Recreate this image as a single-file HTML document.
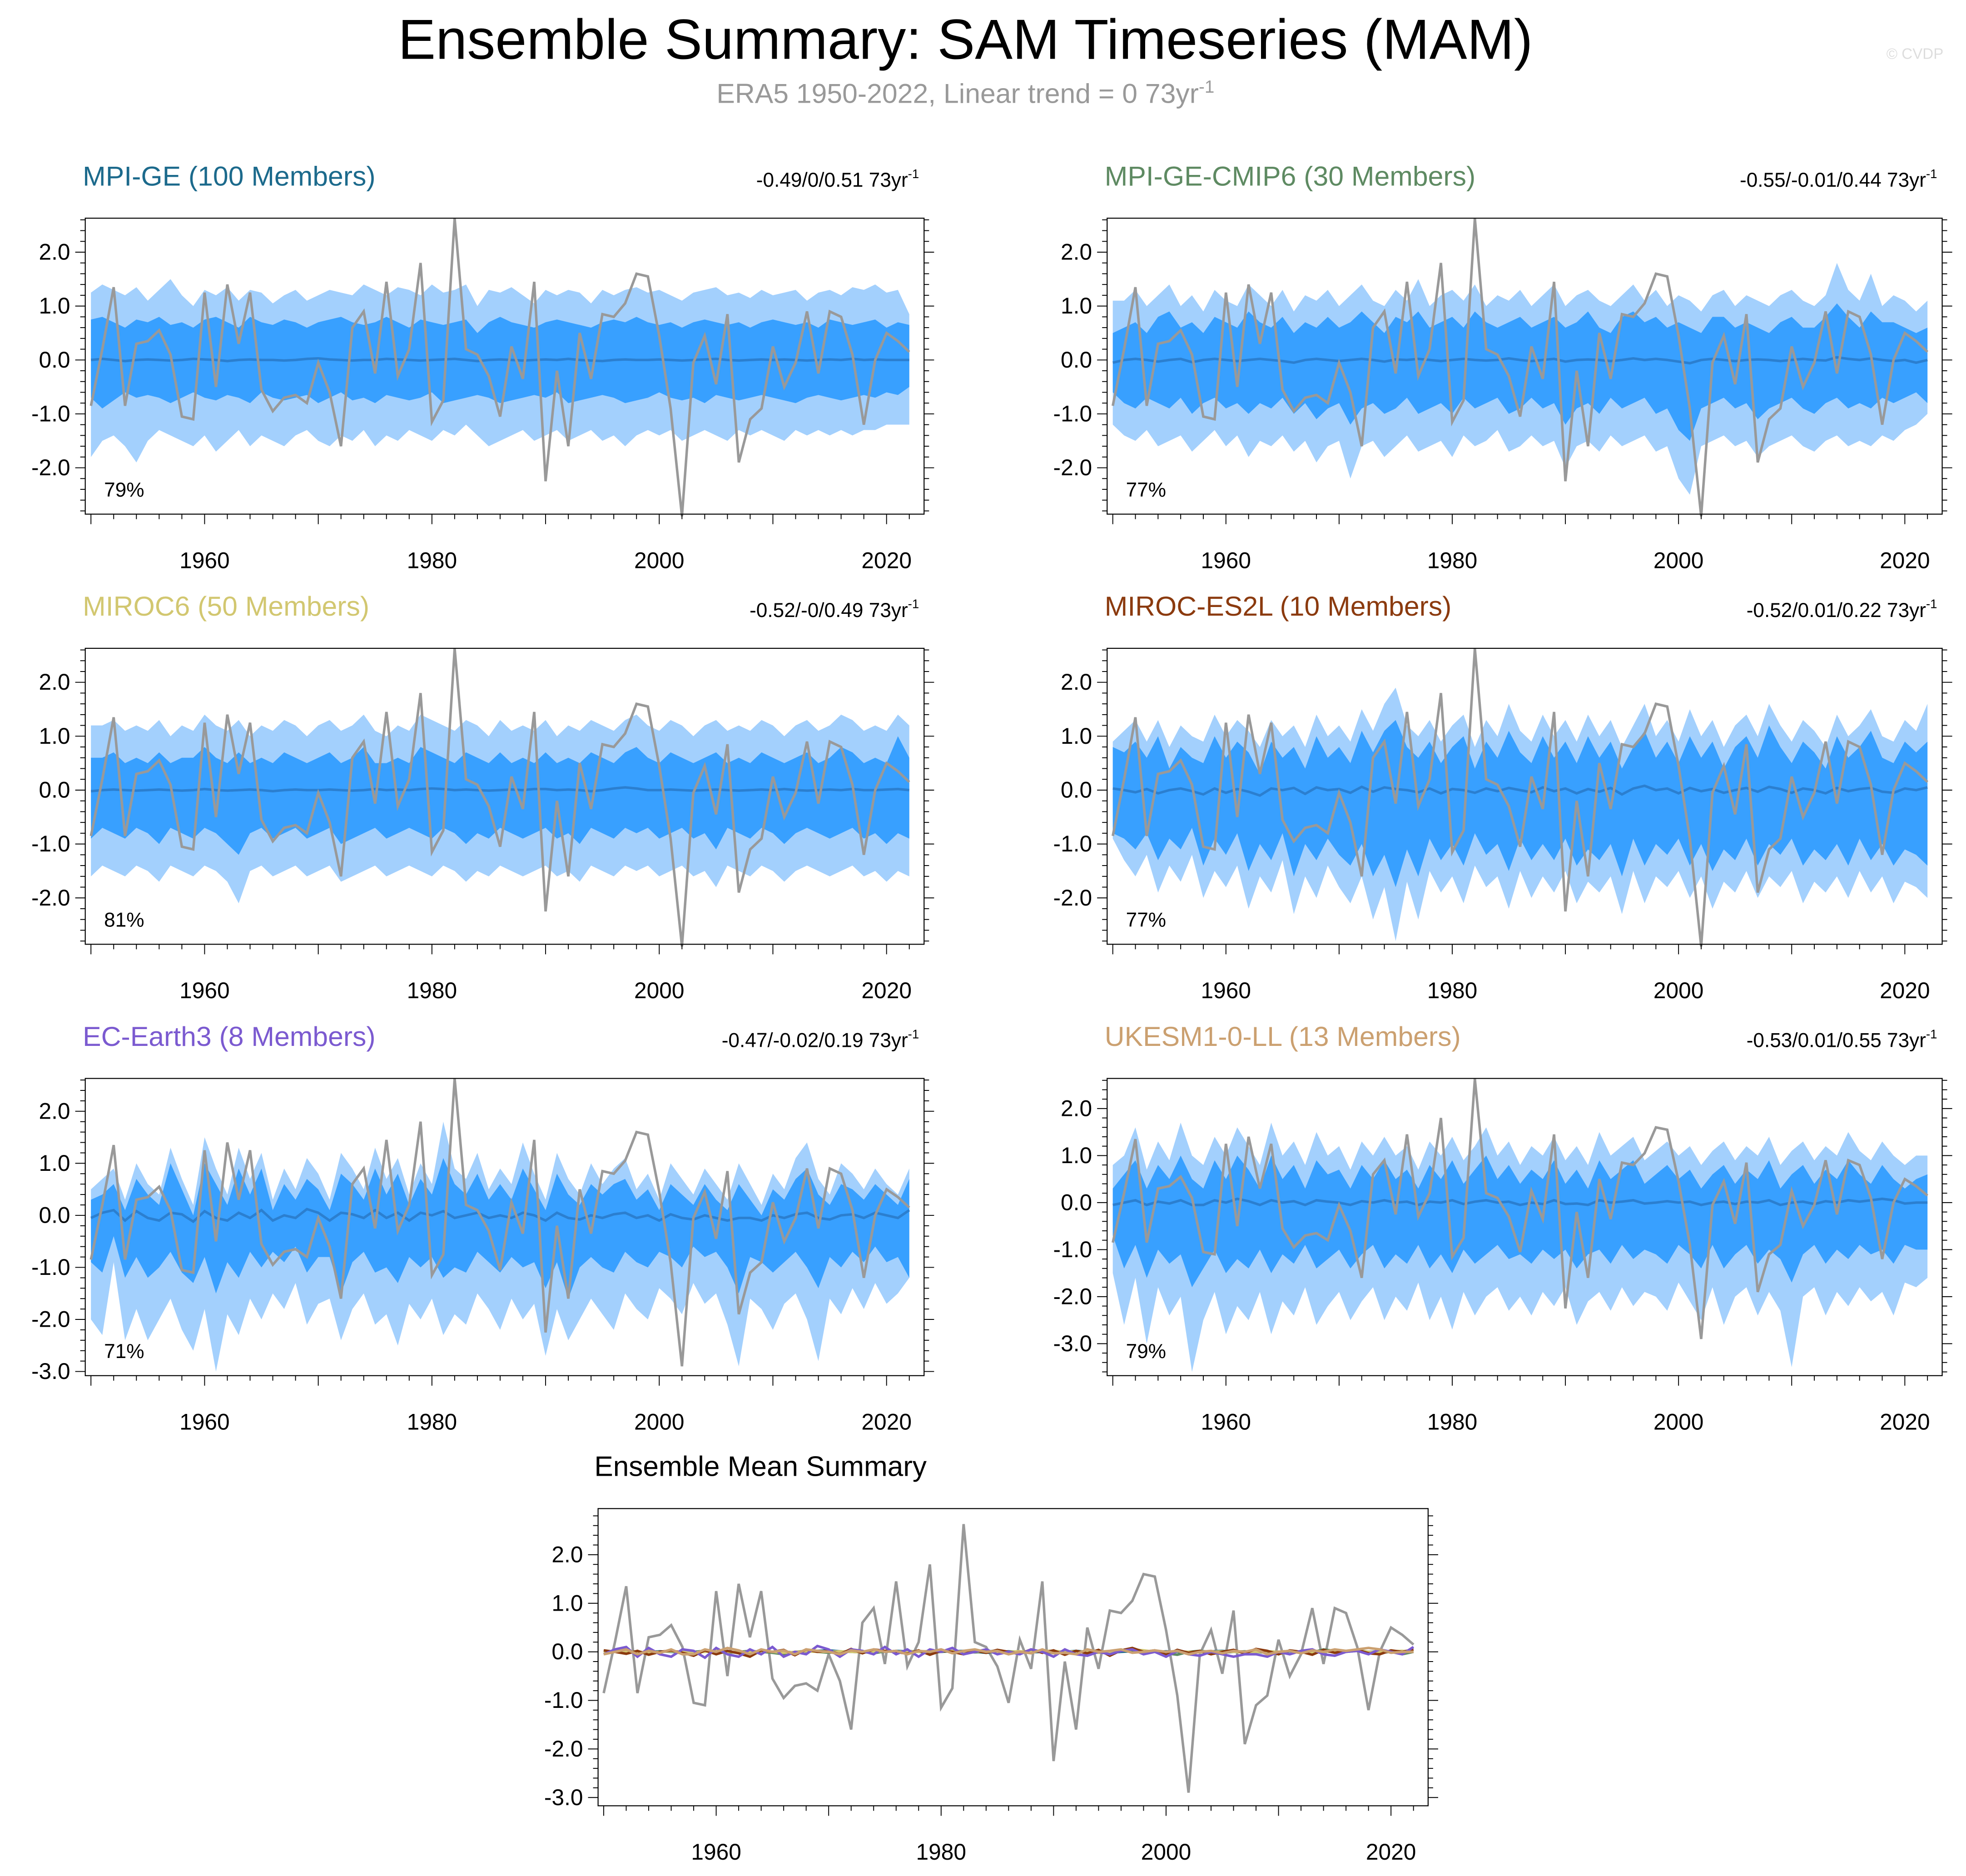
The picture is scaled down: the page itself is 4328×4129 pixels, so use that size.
<!DOCTYPE html>
<html><head><meta charset="utf-8">
<style>
html,body{margin:0;padding:0;background:#fff;}
svg{display:block;font-family:"Liberation Sans",sans-serif;}
</style></head>
<body>
<svg id="chart" xmlns="http://www.w3.org/2000/svg" width="4328" height="4129" viewBox="0 0 1568 1496" preserveAspectRatio="none">
<rect width="1568" height="1496" fill="#fff"/>
<text x="770" y="47" font-size="45" text-anchor="middle" fill="#000">Ensemble Summary: SAM Timeseries (MAM)</text>
<text x="770" y="82" font-size="22" text-anchor="middle" fill="#999">ERA5 1950-2022, Linear trend = 0 73yr<tspan font-size="14" dy="-8">-1</tspan></text>
<text x="1550" y="47" font-size="12" text-anchor="end" fill="#ddd">© CVDP</text>
<g id="plots"></g>
</svg>
<script>
const years=[];for(let y=1950;y<=2022;y++)years.push(y);
const era5=[-0.85,0.2,1.35,-0.85,0.3,0.35,0.55,0.1,-1.05,-1.1,1.25,-0.5,1.4,0.3,1.25,-0.55,-0.95,-0.7,-0.65,-0.8,-0.05,-0.6,-1.6,0.6,0.9,-0.25,1.45,-0.3,0.2,1.8,-1.15,-0.75,2.63,0.2,0.1,-0.3,-1.05,0.25,-0.35,1.45,-2.25,-0.2,-1.6,0.5,-0.35,0.85,0.8,1.05,1.6,1.55,0.45,-0.9,-2.9,-0.05,0.45,-0.45,0.85,-1.9,-1.1,-0.9,0.25,-0.5,-0.05,0.9,-0.25,0.9,0.8,0.1,-1.2,0.0,0.5,0.35,0.15];

// MPI-GE
const mpiOHi=[1.25,1.4,1.3,1.2,1.35,1.1,1.3,1.5,1.2,1.0,1.3,1.2,1.35,1.1,1.3,1.25,1.05,1.2,1.3,1.1,1.2,1.3,1.25,1.2,1.4,1.3,1.2,1.35,1.3,1.2,1.4,1.25,1.3,1.4,1.0,1.3,1.25,1.35,1.2,1.05,1.3,1.2,1.3,1.25,1.05,1.3,1.2,1.3,1.35,1.25,1.3,1.2,1.1,1.25,1.3,1.35,1.2,1.25,1.15,1.3,1.2,1.25,1.3,1.1,1.25,1.3,1.2,1.35,1.3,1.4,1.25,1.3,0.85];
const mpiOLo=[-1.8,-1.5,-1.4,-1.6,-1.9,-1.5,-1.3,-1.4,-1.5,-1.6,-1.4,-1.7,-1.5,-1.3,-1.6,-1.4,-1.5,-1.6,-1.4,-1.3,-1.5,-1.6,-1.4,-1.5,-1.3,-1.6,-1.4,-1.5,-1.3,-1.4,-1.5,-1.3,-1.4,-1.2,-1.4,-1.6,-1.5,-1.4,-1.3,-1.5,-1.4,-1.3,-1.5,-1.4,-1.3,-1.5,-1.4,-1.6,-1.4,-1.3,-1.4,-1.3,-1.5,-1.4,-1.3,-1.4,-1.5,-1.3,-1.4,-1.3,-1.4,-1.5,-1.3,-1.4,-1.3,-1.4,-1.3,-1.4,-1.3,-1.3,-1.2,-1.2,-1.2];
const mpiIHi=[0.75,0.8,0.7,0.6,0.75,0.7,0.8,0.65,0.7,0.6,0.75,0.8,0.7,0.6,0.8,0.7,0.65,0.75,0.7,0.6,0.7,0.75,0.8,0.7,0.65,0.7,0.8,0.7,0.6,0.75,0.7,0.65,0.7,0.75,0.5,0.7,0.8,0.7,0.65,0.6,0.7,0.75,0.7,0.65,0.6,0.7,0.75,0.7,0.8,0.7,0.65,0.7,0.6,0.7,0.75,0.7,0.65,0.7,0.6,0.7,0.75,0.7,0.65,0.7,0.6,0.75,0.7,0.65,0.7,0.75,0.6,0.7,0.65];
const mpiILo=[-0.7,-0.9,-0.75,-0.6,-0.7,-0.65,-0.7,-0.8,-0.7,-0.6,-0.7,-0.75,-0.65,-0.7,-0.8,-0.6,-0.7,-0.75,-0.7,-0.65,-0.8,-0.7,-0.6,-0.75,-0.7,-0.8,-0.65,-0.7,-0.75,-0.7,-0.6,-0.8,-0.75,-0.7,-0.65,-0.7,-0.8,-0.75,-0.7,-0.65,-0.7,-0.6,-0.8,-0.75,-0.7,-0.65,-0.7,-0.8,-0.75,-0.7,-0.6,-0.7,-0.75,-0.7,-0.8,-0.65,-0.7,-0.75,-0.7,-0.65,-0.7,-0.75,-0.8,-0.7,-0.65,-0.7,-0.75,-0.7,-0.65,-0.7,-0.6,-0.65,-0.5];
const mpiMean=[0,0.02,0,-0.02,0,0.01,0,-0.01,0,0.02,0.01,0,-0.02,0,0.01,0,0,-0.01,0,0.02,0.03,0.01,0,-0.01,0,0,0.02,0.01,0,-0.01,0,0.01,0.02,0,-0.02,0,0.01,0,-0.01,0,0.01,0,0.02,0,-0.01,-0.02,0,0.01,0,0,0.01,0,-0.01,0,0.01,0.02,0,-0.01,0,0.01,0,0.01,0,-0.01,0,0.01,0,0.02,0,0.01,0,0,0];
// MPI-GE-CMIP6
const cm6OHi=[1.1,1.1,1.3,1.0,1.2,1.4,1.0,1.2,0.9,1.3,1.1,1.0,1.4,1.2,1.0,1.3,0.9,1.2,1.1,1.3,1.0,1.2,1.4,1.1,1.0,1.3,1.1,1.5,1.0,1.2,1.3,1.1,1.4,1.0,1.2,1.1,1.3,1.0,1.2,1.4,1.0,1.2,1.3,1.1,1.0,1.2,1.4,1.1,1.3,1.0,1.2,1.1,0.9,1.2,1.3,1.0,1.2,1.1,1.0,1.2,1.3,1.1,1.0,1.2,1.8,1.3,1.1,1.6,1.0,1.2,1.1,0.9,1.1];
const cm6OLo=[-1.2,-1.4,-1.5,-1.3,-1.6,-1.5,-1.4,-1.7,-1.5,-1.3,-1.6,-1.4,-1.8,-1.5,-1.6,-1.4,-1.7,-1.5,-1.9,-1.6,-1.5,-2.2,-1.6,-1.5,-1.8,-1.6,-1.4,-1.7,-1.6,-1.5,-1.8,-1.4,-1.6,-1.5,-1.3,-1.7,-1.6,-1.4,-1.6,-1.5,-2.0,-1.6,-1.5,-1.7,-1.4,-1.6,-1.5,-1.4,-1.7,-1.6,-2.2,-2.5,-1.6,-1.5,-1.4,-1.6,-1.5,-1.8,-1.6,-1.5,-1.4,-1.6,-1.7,-1.5,-1.4,-1.6,-1.5,-1.6,-1.4,-1.5,-1.3,-1.2,-1.0];
const cm6IHi=[0.5,0.6,0.7,0.5,0.8,0.9,0.6,0.7,0.5,0.8,0.7,0.6,0.9,0.7,0.6,0.8,0.5,0.7,0.6,0.8,0.6,0.7,0.9,0.7,0.5,0.8,0.7,0.9,0.6,0.7,0.8,0.6,0.9,0.7,0.6,0.7,0.8,0.6,0.7,0.8,0.6,0.7,0.9,0.6,0.5,0.8,0.9,0.7,0.8,0.6,0.7,0.6,0.5,0.8,0.8,0.6,0.7,0.6,0.5,0.7,0.8,0.6,0.6,0.8,1.05,0.8,0.6,0.9,0.7,0.7,0.6,0.5,0.6];
const cm6ILo=[-0.6,-0.8,-0.9,-0.7,-0.8,-0.9,-0.7,-1.0,-0.8,-0.7,-0.9,-0.8,-1.0,-0.8,-0.9,-0.7,-1.0,-0.8,-1.1,-0.9,-0.8,-1.2,-0.9,-0.8,-1.0,-0.9,-0.7,-1.0,-0.9,-0.8,-1.0,-0.7,-0.9,-0.8,-0.7,-1.0,-0.9,-0.7,-0.9,-0.8,-1.2,-0.9,-0.8,-1.0,-0.7,-0.9,-0.8,-0.7,-1.0,-0.9,-1.3,-1.5,-0.9,-0.8,-0.7,-0.9,-0.8,-1.1,-0.9,-0.8,-0.7,-0.9,-1.0,-0.8,-0.7,-0.9,-0.8,-0.9,-0.7,-0.8,-0.7,-0.6,-0.8];
const cm6Mean=[-0.05,0.0,0.02,0,-0.03,0,0.02,-0.04,0,0.02,0,-0.02,0,0.02,0,-0.02,-0.05,0,0.02,0,-0.02,0,0.02,0,-0.03,0.01,0,0.02,0,-0.02,0,0.02,0,-0.01,0,0.03,0,-0.02,0,0.02,-0.03,0,0.01,0,-0.02,0,0.03,0,0.02,0,-0.03,-0.06,0,0.02,0,-0.02,0,0.01,0,-0.02,0,0.02,0,-0.01,0.05,0.02,0,0.03,0,-0.02,0,-0.05,0];
// MIROC6
const mirOHi=[1.2,1.2,1.3,1.1,1.2,1.1,1.3,1.0,1.2,1.1,1.4,1.2,1.1,1.3,1.0,1.2,1.1,1.3,1.2,1.0,1.2,1.3,1.1,1.2,1.4,1.1,1.0,1.2,1.1,1.4,1.3,1.2,1.1,1.3,1.2,1.0,1.3,1.1,1.2,1.1,1.3,1.0,1.2,1.1,1.3,1.2,1.1,1.3,1.4,1.2,1.1,1.3,1.2,1.0,1.2,1.3,1.1,1.2,1.1,1.3,1.2,1.0,1.2,1.3,1.1,1.2,1.4,1.3,1.1,1.2,1.1,1.4,1.2];
const mirOLo=[-1.6,-1.4,-1.5,-1.6,-1.4,-1.5,-1.7,-1.4,-1.5,-1.6,-1.4,-1.5,-1.7,-2.1,-1.5,-1.4,-1.6,-1.5,-1.4,-1.6,-1.5,-1.4,-1.7,-1.6,-1.5,-1.4,-1.6,-1.5,-1.4,-1.5,-1.6,-1.4,-1.5,-1.7,-1.5,-1.6,-1.4,-1.5,-1.6,-1.5,-1.4,-1.6,-1.5,-1.7,-1.4,-1.5,-1.6,-1.4,-1.5,-1.4,-1.6,-1.5,-1.4,-1.6,-1.5,-1.8,-1.4,-1.5,-1.6,-1.4,-1.5,-1.7,-1.5,-1.4,-1.5,-1.6,-1.5,-1.4,-1.6,-1.5,-1.7,-1.5,-1.6];
const mirIHi=[0.6,0.6,0.7,0.5,0.6,0.5,0.7,0.5,0.6,0.6,0.8,0.6,0.5,0.7,0.5,0.6,0.5,0.7,0.6,0.5,0.6,0.7,0.5,0.6,0.8,0.5,0.5,0.6,0.5,0.8,0.7,0.6,0.5,0.7,0.6,0.5,0.7,0.5,0.6,0.5,0.7,0.5,0.6,0.5,0.7,0.6,0.5,0.7,0.8,0.6,0.5,0.7,0.6,0.5,0.6,0.7,0.5,0.6,0.5,0.7,0.6,0.5,0.6,0.7,0.5,0.6,0.8,0.7,0.5,0.6,0.5,1.0,0.6];
const mirILo=[-0.9,-0.7,-0.8,-0.9,-0.7,-0.8,-1.0,-0.7,-0.8,-0.9,-0.7,-0.8,-1.0,-1.2,-0.8,-0.7,-0.9,-0.8,-0.7,-0.9,-0.8,-0.7,-1.0,-0.9,-0.8,-0.7,-0.9,-0.8,-0.7,-0.8,-0.9,-0.7,-0.8,-1.0,-0.8,-0.9,-0.7,-0.8,-0.9,-0.8,-0.7,-0.9,-0.8,-1.0,-0.7,-0.8,-0.9,-0.7,-0.8,-0.7,-0.9,-0.8,-0.7,-0.9,-0.8,-1.1,-0.7,-0.8,-0.9,-0.7,-0.8,-1.0,-0.8,-0.7,-0.8,-0.9,-0.8,-0.7,-0.9,-0.8,-1.0,-0.8,-0.9];
const mirMean=[-0.02,0,0.01,0,-0.01,0,0.01,0,-0.01,0,0.02,0,-0.01,0,0.01,0,-0.02,0,0.01,0,0,0.01,0,-0.01,0,0.02,0,0.01,0,0.02,0.03,0.02,0,0.01,0,-0.01,0,0.01,0,0.02,0.02,0,0.01,0,-0.02,0,0.03,0.05,0.03,0,0,0.01,0,-0.01,0,0.01,0,-0.01,0,0.01,0,0.02,0,-0.01,0,0.01,0,0.02,0,0,0.01,0.02,0];
// MIROC-ES2L
const esOHi=[0.9,1.1,1.3,0.9,1.3,0.8,1.2,1.0,0.9,1.4,1.0,1.3,1.1,0.8,1.3,1.0,1.2,0.8,1.4,1.0,1.2,0.9,1.5,1.1,1.6,1.9,1.2,1.0,1.3,0.9,1.2,1.4,0.8,1.3,1.0,1.6,1.1,0.9,1.4,1.0,1.3,0.9,1.4,1.0,1.3,0.8,1.2,1.6,1.0,1.3,0.9,1.5,1.0,1.3,0.8,1.2,1.4,1.0,1.6,1.2,0.9,1.3,1.1,0.8,1.4,1.0,1.2,1.5,1.0,0.9,1.3,1.1,1.6];
const esOLo=[-0.9,-1.3,-1.6,-1.2,-1.9,-1.4,-1.7,-1.2,-2.0,-1.5,-1.8,-1.4,-2.2,-1.6,-1.9,-1.3,-2.3,-1.6,-2.0,-1.4,-1.8,-2.1,-1.6,-2.4,-1.8,-2.8,-1.7,-2.4,-1.5,-1.9,-1.6,-2.1,-1.4,-1.8,-1.6,-2.2,-1.5,-2.0,-1.6,-1.9,-1.5,-2.1,-1.7,-1.9,-1.6,-2.3,-1.5,-2.1,-1.6,-1.8,-1.5,-2.0,-1.6,-2.2,-1.7,-1.9,-1.5,-2.0,-1.6,-1.8,-1.5,-2.1,-1.7,-1.9,-1.6,-2.0,-1.5,-1.9,-1.6,-2.1,-1.7,-1.8,-2.0];
const esIHi=[0.8,0.7,0.9,0.6,1.0,0.4,0.8,0.6,0.5,1.0,0.6,0.9,0.7,0.3,0.9,0.6,0.8,0.4,1.0,0.6,0.8,0.5,1.1,0.7,1.1,1.3,0.8,0.6,0.9,0.5,0.8,1.0,0.4,0.9,0.6,1.1,0.7,0.5,1.0,0.6,0.9,0.5,1.0,0.6,0.9,0.4,0.8,1.1,0.6,0.9,0.5,1.0,0.6,0.9,0.4,0.8,1.0,0.6,1.2,0.8,0.5,0.9,0.7,0.4,1.0,0.6,0.8,1.1,0.6,0.5,0.9,0.7,0.9];
const esILo=[-0.8,-0.9,-1.1,-0.8,-1.3,-0.9,-1.1,-0.7,-1.4,-0.9,-1.2,-0.8,-1.5,-1.0,-1.3,-0.8,-1.6,-1.0,-1.3,-0.9,-1.2,-1.4,-1.0,-1.6,-1.2,-1.8,-1.1,-1.6,-0.9,-1.3,-1.0,-1.4,-0.8,-1.2,-1.0,-1.5,-0.9,-1.3,-1.0,-1.3,-0.9,-1.4,-1.1,-1.3,-1.0,-1.6,-0.9,-1.4,-1.0,-1.2,-0.9,-1.4,-1.0,-1.5,-1.1,-1.3,-0.9,-1.4,-1.0,-1.2,-0.9,-1.4,-1.1,-1.3,-1.0,-1.4,-0.9,-1.3,-1.0,-1.4,-1.1,-1.2,-1.4];
const esMean=[0.03,0,-0.04,0.02,-0.06,0,0.03,-0.02,-0.08,0.03,-0.05,0.02,-0.03,-0.1,0.03,0,0.04,-0.07,0.05,0,0.02,-0.05,0.06,-0.03,0.05,0.02,0,-0.04,0.03,-0.06,0.02,0,-0.05,0.03,-0.02,0.04,0,-0.04,0.05,-0.02,0.03,-0.06,0.02,-0.03,0.04,-0.08,0.03,0.08,0,0.03,-0.06,0.04,-0.02,0.02,-0.05,0,0.04,-0.03,0.06,0.02,-0.05,0.03,0,-0.06,0.04,-0.02,0.02,0.04,-0.03,-0.05,0.03,0,0.05];
// EC-Earth3
const ecOHi=[0.5,0.7,0.9,0.3,1.0,0.6,0.4,1.3,0.7,0.2,1.5,0.9,0.4,1.3,0.7,1.2,0.3,0.9,0.5,1.1,0.8,0.3,1.2,0.9,0.5,1.3,0.7,1.1,0.4,1.0,0.6,1.8,0.9,0.7,1.2,0.5,0.9,0.6,1.4,0.8,0.3,1.2,0.7,0.4,1.0,0.6,0.9,1.1,0.5,0.8,0.3,1.0,0.7,0.4,0.9,0.6,0.3,1.0,0.6,0.2,0.8,0.5,1.1,1.4,0.7,0.4,1.0,0.8,0.5,0.9,0.6,0.4,0.9];
const ecOLo=[-2.0,-2.3,-0.9,-2.4,-1.8,-2.4,-2.0,-1.6,-2.2,-2.6,-1.8,-3.0,-1.9,-2.3,-1.6,-2.0,-1.5,-1.8,-1.3,-2.1,-1.7,-1.6,-2.4,-1.8,-1.5,-2.1,-1.9,-2.5,-1.7,-2.0,-1.6,-2.3,-1.9,-2.1,-1.5,-1.8,-2.2,-1.6,-2.0,-1.7,-2.7,-1.8,-2.4,-2.0,-1.6,-1.9,-2.2,-1.5,-1.8,-2.0,-1.4,-1.6,-1.9,-1.3,-1.7,-1.5,-2.1,-2.9,-1.6,-1.8,-2.2,-1.7,-1.5,-2.0,-2.8,-1.6,-1.9,-1.4,-1.8,-1.3,-1.7,-1.5,-1.2];
const ecIHi=[0.3,0.4,0.6,0.1,0.7,0.4,0.2,1.0,0.5,0.0,1.0,0.6,0.2,0.9,0.4,0.9,0.1,0.6,0.3,0.7,0.5,0.1,0.8,0.6,0.3,0.9,0.4,0.8,0.2,0.7,0.4,1.1,0.6,0.4,0.8,0.3,0.6,0.3,0.9,0.5,0.1,0.8,0.4,0.2,0.6,0.4,0.6,0.7,0.3,0.5,0.1,0.6,0.4,0.2,0.6,0.3,0.1,0.6,0.3,0.0,0.5,0.3,0.7,0.9,0.4,0.2,0.6,0.5,0.3,0.6,0.4,0.2,0.7];
const ecILo=[-0.9,-1.1,-0.4,-1.2,-0.8,-1.2,-1.0,-0.7,-1.1,-1.3,-0.8,-1.5,-0.9,-1.2,-0.7,-1.0,-0.7,-0.9,-0.6,-1.1,-0.8,-0.8,-1.5,-0.9,-0.7,-1.1,-1.0,-1.3,-0.8,-1.0,-0.8,-1.2,-1.0,-1.1,-0.7,-0.9,-1.1,-0.8,-1.0,-0.9,-1.4,-0.9,-1.6,-1.0,-0.8,-1.0,-1.1,-0.7,-0.9,-1.0,-0.7,-0.8,-1.0,-0.6,-0.8,-0.7,-1.0,-1.5,-0.8,-0.9,-1.1,-0.9,-0.7,-1.0,-1.4,-0.8,-1.0,-0.7,-0.9,-0.6,-0.9,-0.8,-1.2];
const ecMean=[-0.05,0.05,0.1,-0.1,0.08,-0.05,-0.1,0.05,0.02,-0.12,0.08,-0.05,-0.1,0.05,-0.05,0.1,-0.1,0.0,-0.05,0.12,0.05,-0.1,0.05,0.02,-0.05,0.1,-0.05,0.05,-0.1,0.05,0.0,0.08,-0.05,0.0,0.05,-0.05,0.0,-0.05,0.05,0.0,-0.1,0.05,-0.05,-0.08,0.0,-0.05,0.02,0.05,-0.05,0.0,-0.1,0.02,-0.05,-0.08,0.0,-0.05,-0.1,-0.05,-0.05,-0.1,0.0,-0.05,0.02,0.05,-0.05,-0.08,0.0,0.02,-0.05,0.05,0.0,-0.05,0.1];
// UKESM1-0-LL
const ukOHi=[0.8,1.0,1.6,0.7,1.3,0.9,1.7,1.0,0.8,1.4,1.0,1.6,1.2,0.8,1.7,1.0,1.3,0.8,1.5,1.0,1.2,0.7,1.3,1.0,1.4,1.0,1.2,0.7,1.3,1.0,1.4,0.9,1.2,1.6,1.0,1.3,0.8,1.2,1.0,1.4,0.9,1.2,0.8,1.5,1.0,1.2,1.4,0.9,1.1,1.3,1.0,1.2,0.8,1.1,1.3,0.9,1.2,1.0,1.4,0.8,1.1,1.3,0.9,1.2,1.0,1.5,1.1,0.9,1.3,1.0,0.8,1.0,1.0];
const ukOLo=[-1.5,-2.6,-1.6,-3.0,-1.8,-2.4,-2.0,-3.6,-2.5,-1.9,-2.8,-2.2,-2.5,-1.9,-2.8,-2.1,-2.4,-1.8,-2.6,-2.2,-1.9,-2.5,-2.1,-1.8,-2.5,-2.0,-2.3,-1.7,-2.5,-2.0,-2.7,-1.9,-2.4,-2.0,-1.8,-2.3,-2.0,-2.4,-1.9,-2.2,-1.8,-2.6,-2.1,-1.9,-2.3,-1.8,-2.2,-1.9,-2.0,-2.3,-1.7,-2.1,-2.5,-1.8,-2.6,-2.0,-1.8,-2.4,-1.9,-2.3,-3.5,-2.0,-1.8,-2.4,-1.9,-2.2,-1.8,-2.1,-1.9,-2.4,-1.7,-1.8,-1.6];
const ukIHi=[0.3,0.6,0.9,0.3,0.8,0.5,1.0,0.5,0.3,0.9,0.5,1.0,0.7,0.3,1.0,0.5,0.8,0.3,0.9,0.6,0.7,0.3,0.8,0.5,0.9,0.5,0.7,0.3,0.8,0.5,0.9,0.4,0.7,1.0,0.5,0.8,0.4,0.7,0.5,0.9,0.4,0.7,0.3,0.9,0.5,0.7,0.9,0.4,0.6,0.8,0.5,0.7,0.3,0.6,0.8,0.4,0.7,0.5,0.9,0.3,0.6,0.8,0.4,0.7,0.5,0.9,0.6,0.4,0.8,0.5,0.3,0.5,0.6];
const ukILo=[-0.7,-1.4,-0.9,-1.6,-1.0,-1.3,-1.1,-1.8,-1.4,-1.0,-1.5,-1.2,-1.4,-1.0,-1.5,-1.1,-1.3,-0.9,-1.4,-1.2,-1.0,-1.4,-1.1,-0.9,-1.4,-1.1,-1.3,-0.9,-1.4,-1.1,-1.5,-1.0,-1.3,-1.1,-0.9,-1.2,-1.1,-1.3,-1.0,-1.2,-1.0,-1.4,-1.1,-1.0,-1.3,-0.9,-1.2,-1.0,-1.1,-1.3,-0.9,-1.1,-1.4,-0.9,-1.4,-1.1,-0.9,-1.3,-1.0,-1.2,-1.7,-1.1,-0.9,-1.3,-1.0,-1.2,-0.9,-1.1,-1.0,-1.3,-0.9,-1.0,-1.0];
const ukMean=[-0.05,0.0,0.05,-0.05,0.02,-0.02,0.05,-0.05,-0.05,0.05,0.0,0.08,0.03,-0.05,0.05,0.0,0.03,-0.05,0.05,0.02,0.0,-0.05,0.03,0.0,0.05,0.0,0.02,-0.05,0.02,0.0,0.05,-0.03,0.02,0.05,0.0,0.02,-0.05,0.0,-0.03,0.05,-0.03,-0.02,-0.05,0.05,0.0,0.02,0.05,-0.02,0.0,0.03,0.0,0.02,-0.05,0.0,0.02,-0.03,0.02,0.0,0.05,-0.05,0.0,0.02,-0.03,0.03,0.0,0.05,0.02,0.05,0.08,0.05,-0.02,0.0,0.0];

const SVGNS="http://www.w3.org/2000/svg";
const root=document.getElementById('plots');
function mk(tag,attrs,parent){const e=document.createElementNS(SVGNS,tag);for(const k in attrs)e.setAttribute(k,attrs[k]);(parent||root).appendChild(e);return e;}

const panels=[
 {name:'mpi-ge',title:'MPI-GE (100 Members)',color:'#1c6a8c',trend:'-0.49/0/0.51 73yr',pct:'79%',x0:68,x1:737,y0:174,y1:410,vmin:-2.86,vmax:2.63,yt:[2,1,0,-1,-2],d:[mpiOHi,mpiOLo,mpiIHi,mpiILo,mpiMean]},
 {name:'mpi-ge-cmip6',title:'MPI-GE-CMIP6 (30 Members)',color:'#5e8a62',trend:'-0.55/-0.01/0.44 73yr',pct:'77%',x0:883,x1:1549,y0:174,y1:410,vmin:-2.86,vmax:2.63,yt:[2,1,0,-1,-2],d:[cm6OHi,cm6OLo,cm6IHi,cm6ILo,cm6Mean]},
 {name:'miroc6',title:'MIROC6 (50 Members)',color:'#d2c770',trend:'-0.52/-0/0.49 73yr',pct:'81%',x0:68,x1:737,y0:517,y1:753,vmin:-2.86,vmax:2.63,yt:[2,1,0,-1,-2],d:[mirOHi,mirOLo,mirIHi,mirILo,mirMean]},
 {name:'miroc-es2l',title:'MIROC-ES2L (10 Members)',color:'#8b3a0e',trend:'-0.52/0.01/0.22 73yr',pct:'77%',x0:883,x1:1549,y0:517,y1:753,vmin:-2.86,vmax:2.63,yt:[2,1,0,-1,-2],d:[esOHi,esOLo,esIHi,esILo,esMean]},
 {name:'ec-earth3',title:'EC-Earth3 (8 Members)',color:'#7b5ad0',trend:'-0.47/-0.02/0.19 73yr',pct:'71%',x0:68,x1:737,y0:860,y1:1097,vmin:-3.08,vmax:2.63,yt:[2,1,0,-1,-2,-3],d:[ecOHi,ecOLo,ecIHi,ecILo,ecMean]},
 {name:'ukesm1-0-ll',title:'UKESM1-0-LL (13 Members)',color:'#cba070',trend:'-0.53/0.01/0.55 73yr',pct:'79%',x0:883,x1:1549,y0:860,y1:1097,vmin:-3.68,vmax:2.64,yt:[2,1,0,-1,-2,-3],d:[ukOHi,ukOLo,ukIHi,ukILo,ukMean]}
];

function axes(p,g){
 const xs=v=>p.x0+(v-1949.5)/(2023.3-1949.5)*(p.x1-p.x0);
 const ys=v=>p.y1-(v-p.vmin)/(p.vmax-p.vmin)*(p.y1-p.y0);
 return {xs,ys};
}
function frame(p,g,xs,ys){
 const b=mk('rect',{x:p.x0,y:p.y0,width:p.x1-p.x0,height:p.y1-p.y0,fill:'none',stroke:'#000','stroke-width':0.8},g);
 
 for(let v=Math.ceil(p.vmin*5)/5;v<=p.vmax+1e-6;v+=0.2){
  const y=ys(v);const major=Math.abs(Math.round(v)-v)<1e-6;const L=major?8:4;
  mk('line',{x1:p.x0-L,x2:p.x0,y1:y,y2:y,stroke:'#000','stroke-width':0.7},g);
  mk('line',{x1:p.x1,x2:p.x1+L,y1:y,y2:y,stroke:'#000','stroke-width':0.7},g);
 }
 p.yt.forEach(v=>{const t=mk('text',{x:p.x0-12,y:ys(v)+6,'font-size':18,'text-anchor':'end',fill:'#000'},g);t.textContent=v.toFixed(1);
  });
 for(let yr=1950;yr<=2022;yr+=2){const x=xs(yr);const major=yr%10===0;
  mk('line',{x1:x,x2:x,y1:p.y1,y2:p.y1+(major?8:4),stroke:'#000','stroke-width':0.7},g);}
 [1960,1980,2000,2020].forEach(yr=>{const t=mk('text',{x:xs(yr),y:p.y1+43,'font-size':18,'text-anchor':'middle',fill:'#000'},g);t.textContent=yr;
  });
}
function linePath(arr,xs,ys){return arr.map((v,i)=>(i?'L':'M')+xs(years[i]).toFixed(2)+','+ys(v).toFixed(2)).join('');}
function bandPath(hi,lo,xs,ys){const n=Math.min(hi.length,lo.length,years.length);let d='';
 for(let i=0;i<n;i++)d+=(i?'L':'M')+xs(years[i]).toFixed(2)+','+ys(hi[i]).toFixed(2);
 for(let i=n-1;i>=0;i--)d+='L'+xs(years[i]).toFixed(2)+','+ys(lo[i]).toFixed(2);return d+'Z';}

panels.forEach(p=>{
 const g=mk('g',{});
 
 
 const {xs,ys}=axes(p,g);
 const [oh,ol,ih,il,mn]=p.d;
 const ob=mk('path',{d:bandPath(oh,ol,xs,ys),fill:'#a3d0fd'},g);
 
 
 const ib=mk('path',{d:bandPath(ih,il,xs,ys),fill:'#38a0ff'},g);
 
 
 const ml=mk('path',{d:linePath(mn,xs,ys),fill:'none',stroke:'#2b7fd0','stroke-width':2},g);
 
 
 const el=mk('path',{d:linePath(era5,xs,ys),fill:'none',stroke:'#999','stroke-width':2},g);
 
 
 frame(p,g,xs,ys);
 const t=mk('text',{x:p.x0-2,y:p.y0-26,'font-size':22,fill:p.color},g);t.textContent=p.title;
 
 
 const tr=mk('text',{x:p.x1-4,y:p.y0-25,'font-size':16,'text-anchor':'end',fill:'#000'},g);
 
 
 tr.innerHTML=p.trend+'<tspan font-size="10" dy="-7">-1</tspan>';
 const pc=mk('text',{x:p.x0+15,y:p.y1-14,'font-size':16,fill:'#000'},g);pc.textContent=p.pct;
 
 
});

const bp={x0:477,x1:1139,y0:1203,y1:1440,vmin:-3.17,vmax:2.95,yt:[2,1,0,-1,-2,-3]};
const bg=mk('g',{});


const bax=axes(bp,bg);
const bt=mk('text',{x:474,y:1177,'font-size':22.5,fill:'#000'},bg);bt.textContent='Ensemble Mean Summary';


const be=mk('path',{d:linePath(era5,bax.xs,bax.ys),fill:'none',stroke:'#999','stroke-width':2},bg);


panels.forEach(p=>{const l=mk('path',{d:linePath(p.d[4],bax.xs,bax.ys),fill:'none',stroke:p.color,'stroke-width':2},bg);
 
 });
frame(bp,bg,bax.xs,bax.ys);
</script>
</body></html>
